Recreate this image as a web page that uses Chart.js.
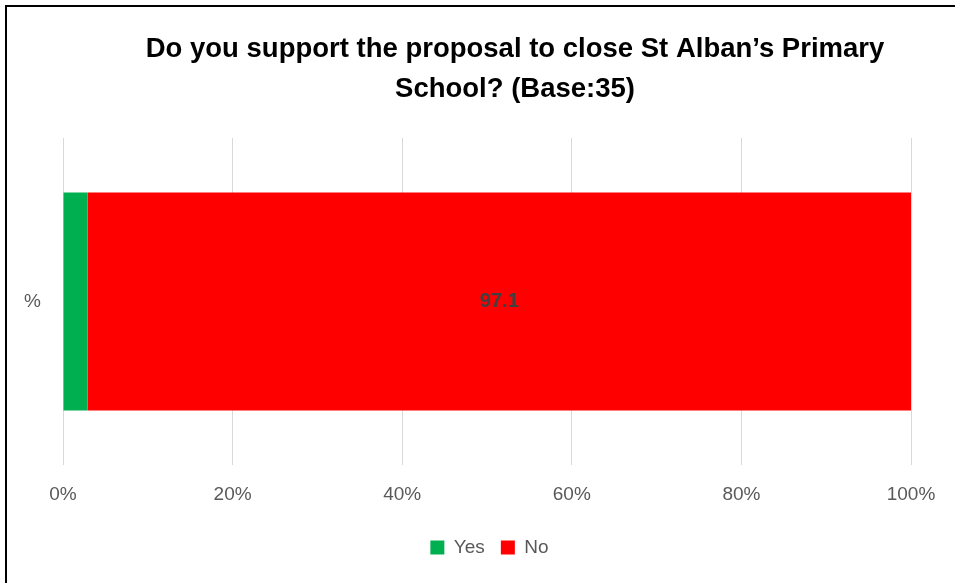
<!DOCTYPE html>
<html>
<head>
<meta charset="utf-8">
<script src="https://cdn.jsdelivr.net/npm/chart.js@4.4.1/dist/chart.umd.min.js"></script>
<style>
  html, body { margin: 0; padding: 0; background: #fff; }
  #wrap { position: relative; width: 955px; height: 583px; overflow: hidden; }
  #frame { position: absolute; left: 5px; top: 5px; width: 960px; height: 600px;
           border-left: 2px solid #000; border-top: 2px solid #000; }
  canvas { position: absolute; left: 0; top: 0; }
</style>
</head>
<body>
<div id="wrap">
  <div id="frame"></div>
  <canvas id="chart" width="955" height="583"></canvas>
</div>
<script>
const titleLines = ['Do you support the proposal to close St Alban\u2019s Primary', 'School? (Base:35)'];
const categories = ['%'];
const seriesNames = ['Yes', 'No'];
const yesValues = [2.9];
const noValues = [97.1];
const xTicks = [0, 20, 40, 60, 80, 100];

const FONT = '"Liberation Sans", Arial, sans-serif';

// two-line title, drawn a little right of centre like the original
const titlePlugin = {
  id: 'manualTitle',
  afterDraw(chart) {
    const ctx = chart.ctx;
    ctx.save();
    ctx.font = 'bold 27.5px ' + FONT;
    ctx.fillStyle = '#000';
    ctx.textAlign = 'center';
    ctx.textBaseline = 'middle';
    titleLines.forEach((line, i) => ctx.fillText(line, 515, 49 + i * 40));
    ctx.restore();
  }
};

// value label in the middle of the "No" bar
const barLabels = {
  id: 'barLabels',
  afterDatasetsDraw(chart) {
    const ctx = chart.ctx;
    ctx.save();
    ctx.font = 'bold 20px ' + FONT;
    ctx.fillStyle = '#404040';
    ctx.textAlign = 'center';
    ctx.textBaseline = 'middle';
    chart.data.datasets.forEach((ds, di) => {
      if (!ds.showLabel) return;
      chart.getDatasetMeta(di).data.forEach((bar, i) => {
        const p = bar.getProps(['x', 'y', 'base'], true);
        ctx.fillText(ds.data[i].toFixed(1), (p.x + p.base) / 2, p.y);
      });
    });
    ctx.restore();
  }
};

new Chart(document.getElementById('chart'), {
  type: 'bar',
  data: {
    labels: categories,
    datasets: [
      { label: seriesNames[0], data: yesValues, backgroundColor: '#00b050', showLabel: false },
      { label: seriesNames[1], data: noValues, backgroundColor: '#ff0000', showLabel: true }
    ]
  },
  options: {
    indexAxis: 'y',
    responsive: false,
    animation: false,
    layout: { padding: { top: 138, left: 24, right: 0, bottom: 16 } },
    datasets: { bar: { barPercentage: 1, categoryPercentage: 0.667 } },
    scales: {
      x: {
        stacked: true,
        min: 0,
        max: 100,
        afterBuildTicks: s => { s.ticks = xTicks.map(v => ({ value: v })); },
        afterFit: s => { s.height = 57; },
        grid: { color: '#d9d9d9', drawTicks: false },
        border: { display: false },
        ticks: { padding: 18, color: '#595959', font: { family: FONT, size: 19 }, callback: v => v + '%' }
      },
      y: {
        stacked: true,
        afterFit: s => { s.width = 39; },
        grid: { display: false, drawTicks: false },
        border: { display: false },
        ticks: { padding: 22, color: '#595959', font: { family: FONT, size: 19 } }
      },
      // empty right-hand strip so the plot ends where the original does
      y2: {
        type: 'category',
        labels: categories,
        position: 'right',
        afterFit: s => { s.width = 44; },
        grid: { display: false, drawTicks: false },
        border: { display: false },
        ticks: { display: false }
      }
    },
    plugins: {
      title: { display: false },
      tooltip: { enabled: false },
      legend: {
        position: 'bottom',
        labels: { boxWidth: 14, boxHeight: 14, padding: 16, color: '#595959', font: { family: FONT, size: 19 } }
      }
    }
  },
  plugins: [titlePlugin, barLabels]
});
</script>
</body>
</html>
